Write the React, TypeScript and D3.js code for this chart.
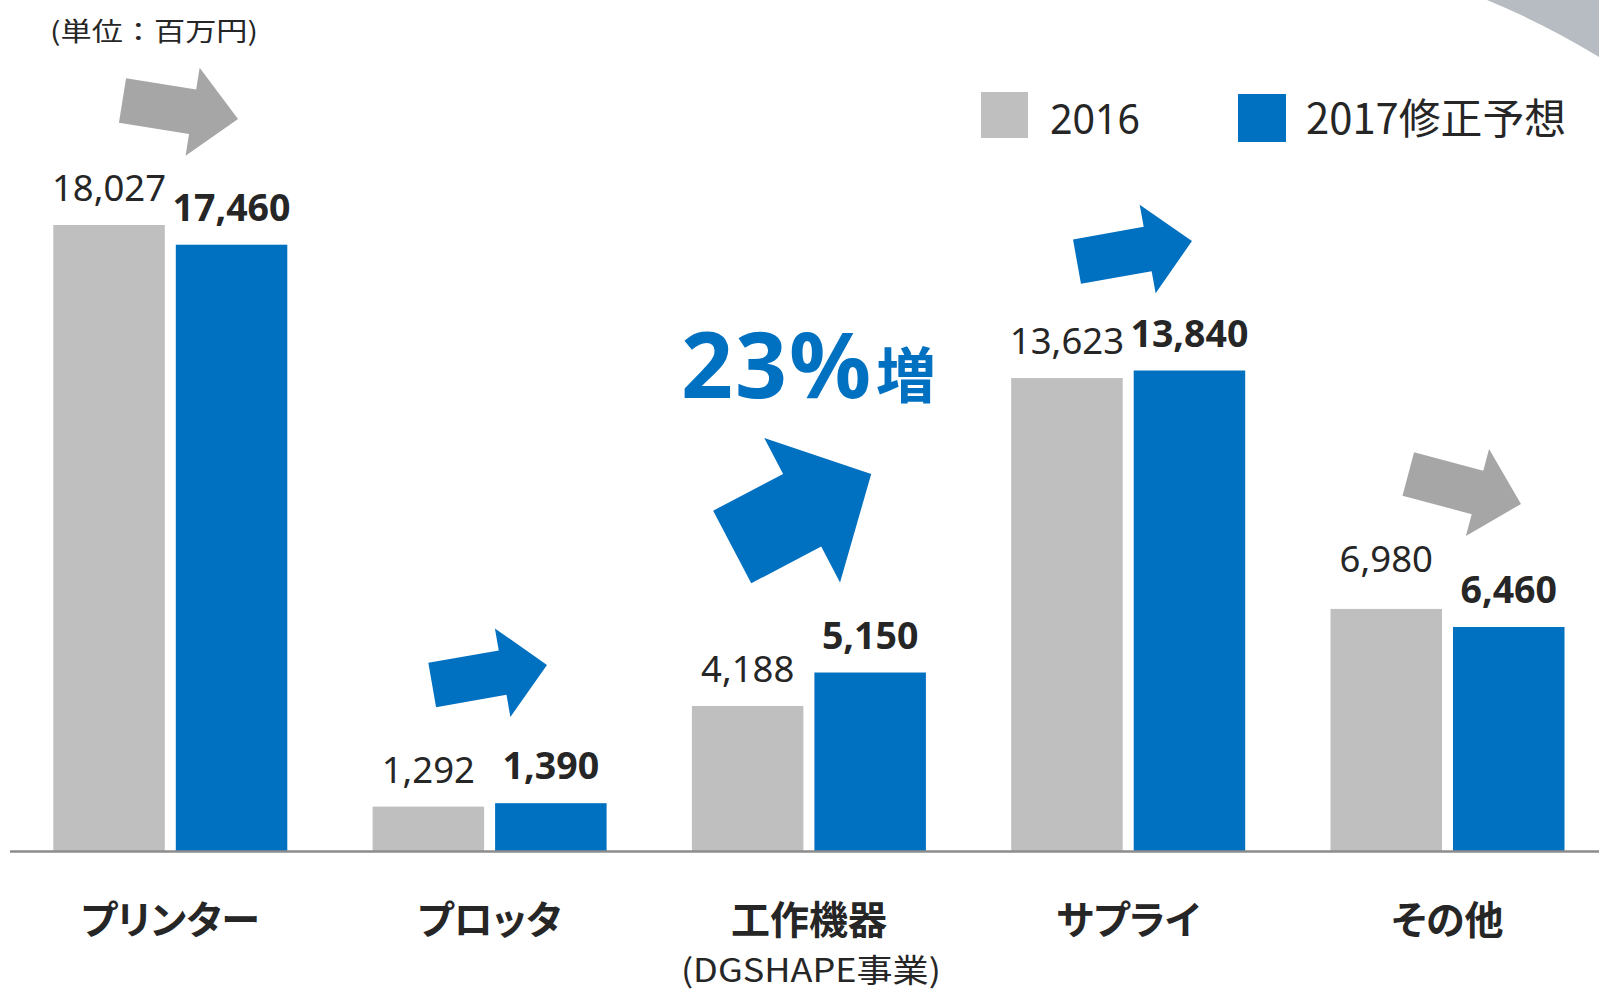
import React from "react";
import * as d3 from "d3";

const categories = ["プリンター", "プロッタ", "工作機器", "サプライ", "その他"];
const subLabels = ["", "", "(DGSHAPE事業)", "", ""];
const seriesNames = ["2016", "2017修正予想"];
const values2016 = [18027, 1292, 4188, 13623, 6980];
const values2017 = [17460, 1390, 5150, 13840, 6460];
const unitLabel = "(単位：百万円)";
const highlightNumber = "23%";
const highlightSuffix = "増";

const W = 1599;
const H = 991;
const BASE_Y = 851.5;
const GRAY = "#BFBFBF";
const BLUE = "#0070C0";
const ARROW_GRAY = "#A6A6A6";
const TEXT = "#262626";
const JP = "'Noto Sans CJK JP', 'Noto Sans', sans-serif";
const NUM = "'Noto Sans', 'Open Sans', sans-serif";

// decorative block arrows: tail centre, angle, length, shaft width, head width, head length
const arrows = [
  { x: 122.5, y: 100.5, a: 9.1, len: 117, sw: 45, hw: 89, hl: 46, c: ARROW_GRAY },
  { x: 432.2, y: 685, a: -9.9, len: 116.5, sw: 45, hw: 90, hl: 45, c: BLUE },
  { x: 732.2, y: 547, a: -27.7, len: 157, sw: 82, hw: 163, hl: 78, c: BLUE },
  { x: 1077, y: 261.7, a: -10.2, len: 116.8, sw: 45, hw: 90, hl: 45, c: BLUE },
  { x: 1408.3, y: 474, a: 14.9, len: 116.6, sw: 45, hw: 90, hl: 45, c: ARROW_GRAY },
];

function arrowPath(len: number, sw: number, hw: number, hl: number) {
  const s = len - hl;
  const pts: [number, number][] = [
    [0, -sw / 2],
    [s, -sw / 2],
    [s, -hw / 2],
    [len, 0],
    [s, hw / 2],
    [s, sw / 2],
    [0, sw / 2],
  ];
  return d3.line()(pts) + "Z";
}

export default function App() {
  const x0 = d3.scaleBand<string>().domain(categories).range([10.65, 1607.15]).padding(0);
  const x1 = d3
    .scaleBand<string>()
    .domain(seriesNames)
    .range([42.65, 276.65])
    .paddingInner(0.0898)
    .paddingOuter(0);
  const y = d3.scaleLinear().domain([0, d3.max(values2016) as number]).range([BASE_Y, 225]);
  const series = [
    { name: seriesNames[0], values: values2016, color: GRAY, bold: false },
    { name: seriesNames[1], values: values2017, color: BLUE, bold: true },
  ];
  const bw = x1.bandwidth();

  return (
    <svg
      width={W}
      height={H}
      style={{ position: "absolute", left: 0, top: 0, background: "#fff" }}
    >
      <rect x={0} y={0} width={W} height={H} fill="#fff" />
      {/* top-right decorative corner */}
      <path d="M1487,0 L1599,0 L1599,57 Q1545,24 1487,0 Z" fill="#B7BCC2" />

      <text x={50} y={41} fontFamily={JP} fontSize={26} fill={TEXT} textLength={208} lengthAdjust="spacingAndGlyphs">
        {unitLabel}
      </text>

      {/* legend */}
      <rect x={981} y={92} width={47} height={46} fill={GRAY} />
      <text x={1050} y={133.5} fontFamily={NUM} fontSize={42} fill={TEXT} textLength={90} lengthAdjust="spacingAndGlyphs">
        {seriesNames[0]}
      </text>
      <rect x={1238} y={94} width={48} height={48} fill={BLUE} />
      <text x={1306} y={133.5} fontFamily={JP} fontSize={42} fill={TEXT} textLength={260} lengthAdjust="spacingAndGlyphs">
        {seriesNames[1]}
      </text>

      {/* bars */}
      {categories.map((cat, i) => (
        <g key={cat} transform={`translate(${x0(cat)},0)`}>
          {series.map((s) => {
            const v = s.values[i];
            const bx = x1(s.name) as number;
            const lift = !s.bold && cat === "その他" ? 37 : 24;
            return (
              <g key={s.name}>
                <rect x={bx} y={y(v)} width={bw} height={BASE_Y - y(v)} fill={s.color} />
                <text
                  x={bx + bw / 2}
                  y={y(v) - lift}
                  textAnchor="middle"
                  fontFamily={NUM}
                  fontWeight={s.bold ? 700 : 400}
                  fontSize={s.bold ? 37.5 : 36.5}
                  fill={TEXT}
                >
                  {d3.format(",")(v)}
                </text>
              </g>
            );
          })}
        </g>
      ))}

      <line x1={10} x2={W} y1={BASE_Y} y2={BASE_Y} stroke="#8C8C8C" strokeWidth={2.5} />

      {/* category labels */}
      {categories.map((cat, i) => {
        const cx = (x0(cat) as number) + x0.bandwidth() / 2;
        return (
          <g key={cat}>
            <text
              x={cx}
              y={934}
              textAnchor="middle"
              fontFamily={JP}
              fontWeight={700}
              fontSize={39}
              fill={TEXT}
              style={{ fontFeatureSettings: '"palt"' }}
            >
              {cat}
            </text>
            {subLabels[i] && (
              <text
                x={cx + 2}
                y={982}
                textAnchor="middle"
                fontFamily={JP}
                fontSize={32}
                fill={TEXT}
                textLength={260}
                lengthAdjust="spacingAndGlyphs"
              >
                {subLabels[i]}
              </text>
            )}
          </g>
        );
      })}

      {/* arrows */}
      {arrows.map((a, i) => (
        <path
          key={i}
          d={arrowPath(a.len, a.sw, a.hw, a.hl)}
          transform={`translate(${a.x},${a.y}) rotate(${a.a})`}
          fill={a.c}
        />
      ))}

      {/* highlight */}
      <text x={681} y={398} fontFamily={NUM} fontWeight={700} fontSize={91} fill={BLUE} style={{ letterSpacing: "2px" }}>
        {highlightNumber}
      </text>
      <text x={876} y={398} fontFamily={JP} fontWeight={700} fontSize={60} fill={BLUE}>
        {highlightSuffix}
      </text>
    </svg>
  );
}
